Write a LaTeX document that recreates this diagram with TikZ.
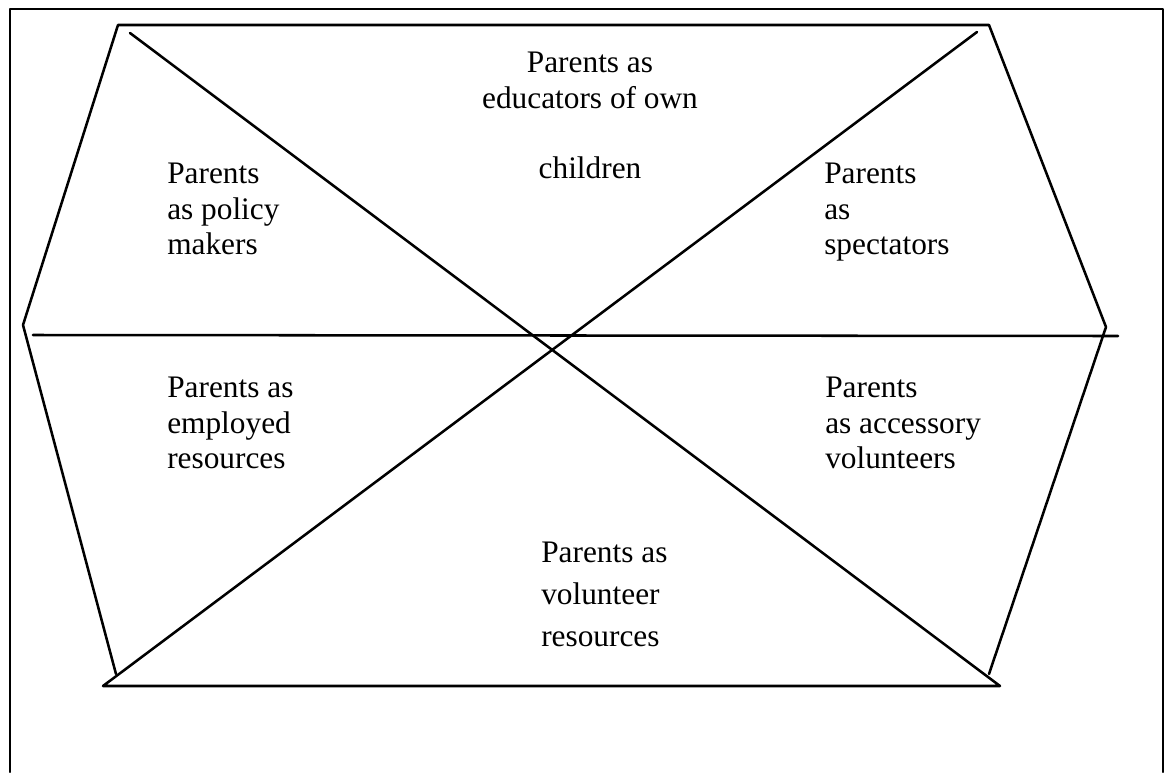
\documentclass[tikz,border=0pt]{standalone}
\usepackage{fontspec}
\setmainfont{Liberation Serif}
\usepackage{tikz}
\usetikzlibrary{positioning}

\tikzset{
  rolelabel/.style={inner sep=0pt, align=left, font=\fontsize{23.5pt}{26.5pt}\selectfont},
  frameline/.style={line width=1.9pt, line cap=round, line join=round}
}

\begin{document}
\begin{tikzpicture}[x=0.75pt,y=0.75pt,yscale=-1,xscale=1]
\useasboundingbox (0,0) rectangle (1165,772);

%Outer frame
\draw [frameline] (10,772) -- (10,9) -- (1163,9) -- (1163,772) ;

%Hexagon corners
\coordinate (tl) at (118,25);
\coordinate (tr) at (989,25);
\coordinate (lv) at (23,325);
\coordinate (rv) at (1106,327);
\coordinate (bl) at (116,674);
\coordinate (br) at (989,674);
%Hexagon sides
\draw [frameline] (bl) -- (lv) -- (tl) -- (tr) -- (rv) -- (br) ;

%Straight Lines (diagonals and base)
\coordinate (dtl) at (130,33);
\coordinate (dtr) at (977,32);
\coordinate (dbl) at (103,686);
\coordinate (dbr) at (1000,686);
\draw [frameline] (dtl) -- (dbr) -- (dbl) -- (dtr) ;

%Straight Lines (middle)
\coordinate (ml) at (33,335);
\coordinate (mr) at (1118,336);
\draw [frameline] (ml) -- (mr) ;

% Text Node
\draw (167,163) node (policy) [anchor=north west][rolelabel] {Parents\\as policy\\makers};
% Text Node
\draw (590,52) node (educators) [anchor=north][rolelabel, align=center] {Parents as\\educators of own\\[26.5pt]children};
% Text Node
\draw (824,163) node (spectators) [anchor=north west][rolelabel] {Parents\\as\\spectators};
% Text Node
\draw (167,377) node (employed) [anchor=north west][rolelabel] {Parents as\\employed\\resources};
% Text Node
\draw (825,377) node (accessory) [anchor=north west][rolelabel] {Parents\\as accessory\\volunteers};
% Text Node
\draw (541,542) node (volunteer) [anchor=north west][rolelabel, font=\fontsize{23.5pt}{31.5pt}\selectfont] {Parents as\\volunteer\\resources};

\end{tikzpicture}
\end{document}
